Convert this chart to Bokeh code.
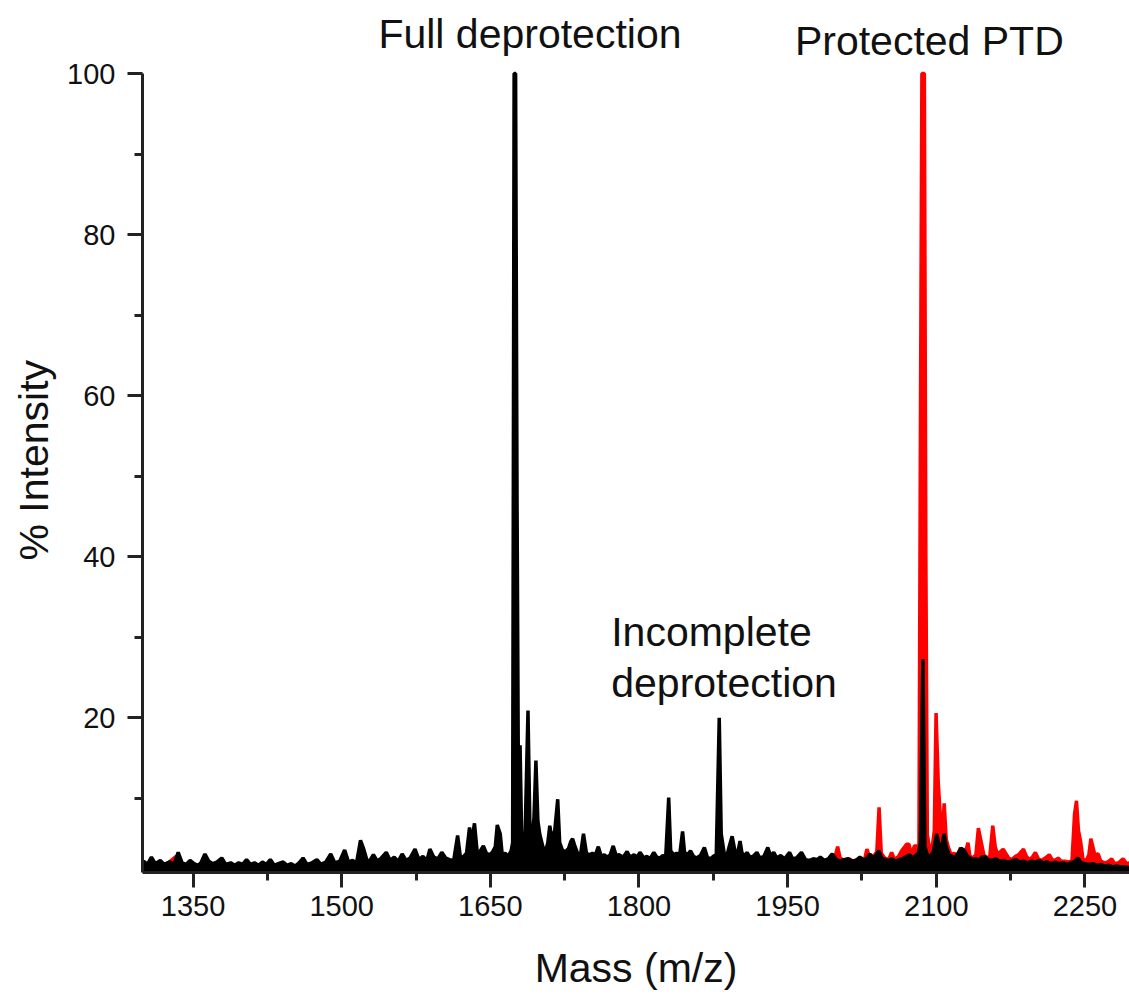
from bokeh.plotting import figure
from bokeh.models import Range1d, FixedTicker, Label, Title
from bokeh.embed import file_html
from bokeh.resources import INLINE

# ---------------- data ----------------
x_major_ticks = [1350, 1500, 1650, 1800, 1950, 2100, 2250]
x_minor_ticks = [1425, 1575, 1725, 1875, 2025, 2175]
y_major_ticks = [20, 40, 60, 80, 100]
y_minor_ticks = [10, 30, 50, 70, 90]

# black trace: deprotected sample
black_mz = [1300, 1304, 1308, 1312, 1317, 1321, 1326, 1331, 1335, 1339, 1343, 1347, 1351, 1355, 1358,
            1362, 1366, 1370, 1374, 1379, 1383, 1388, 1392, 1396, 1400, 1404, 1408, 1412, 1416, 1420,
            1424, 1428, 1432, 1436, 1441, 1445, 1449, 1453, 1457, 1461, 1465, 1470, 1475, 1479, 1484,
            1489, 1493, 1498, 1503, 1507, 1511, 1515, 1519, 1522, 1526, 1529, 1532, 1536, 1540, 1545,
            1549, 1553, 1557, 1561, 1565, 1569, 1574, 1578, 1582, 1586, 1589, 1593, 1597, 1601, 1605,
            1609, 1613, 1617, 1620, 1623, 1626, 1629, 1631, 1634, 1637, 1640, 1643, 1646, 1649, 1652,
            1655, 1657, 1660, 1662, 1665, 1668, 1671, 1672.5, 1674, 1675.5, 1677, 1678.5, 1680, 1681.5, 1683, 1685,
            1688, 1690, 1692, 1694, 1696, 1698, 1700, 1703, 1706, 1708, 1710, 1712, 1715, 1718, 1720,
            1723, 1726, 1729, 1731, 1733, 1735, 1738, 1741, 1744, 1747, 1750, 1753, 1756, 1759, 1762,
            1765, 1768, 1771, 1774, 1777, 1780, 1784, 1788, 1791, 1795, 1798, 1801, 1805, 1808, 1811,
            1815, 1818, 1821, 1824, 1827, 1830, 1832, 1835, 1838, 1841, 1844, 1846, 1849, 1852, 1855,
            1858, 1862, 1866, 1869, 1872, 1875, 1878, 1881, 1883, 1886, 1889, 1891, 1894, 1897, 1900,
            1902, 1904, 1907, 1909, 1912, 1915, 1919, 1922, 1926, 1930, 1933, 1936, 1939, 1943, 1947,
            1952, 1955, 1959, 1964, 1968, 1972, 1976, 1980, 1983, 1987, 1991, 1995, 1999, 2003, 2007,
            2011, 2015, 2019, 2023, 2027, 2030, 2033, 2036, 2039, 2042, 2045, 2048, 2052, 2055, 2059,
            2063, 2067, 2070, 2073, 2076, 2079, 2082, 2084, 2086.5, 2088.5, 2091, 2094, 2097, 2100.5, 2103,
            2105, 2108, 2110, 2113, 2116, 2119, 2122, 2125, 2128, 2131, 2134, 2137, 2140, 2143, 2146,
            2149, 2152, 2156, 2160, 2164, 2168, 2172, 2176, 2180, 2184, 2188, 2192, 2196, 2200, 2204,
            2208, 2212, 2216, 2220, 2224, 2228, 2232, 2236, 2240, 2243, 2246, 2250, 2254, 2258, 2262,
            2266, 2270, 2274, 2278, 2282, 2286, 2290, 2295]
black_int = [2.2, 1.8, 2.7, 1.9, 2.3, 1.8, 2.1, 1.9, 3.3, 2.0, 1.8, 2.3, 1.9, 1.7, 2.0,
             3.1, 2.2, 1.9, 2.1, 2.6, 1.8, 2.0, 1.7, 2.0, 1.8, 2.4, 1.8, 2.0, 1.7, 2.1,
             1.8, 2.4, 1.7, 1.9, 2.1, 1.7, 1.9, 1.6, 2.0, 2.6, 1.8, 2.0, 2.4, 1.8, 2.1,
             3.1, 2.0, 2.2, 3.6, 2.1, 2.3, 2.0, 4.8, 3.8, 2.1, 2.4, 3.0, 2.2, 2.6, 3.3,
             2.3, 2.7, 2.2, 3.1, 2.3, 2.6, 3.7, 2.4, 2.8, 2.3, 3.7, 2.7, 2.5, 3.3, 2.6,
             2.4, 2.3, 5.4, 2.5, 2.8, 3.2, 6.4, 4.5, 6.9, 3.0, 3.5, 4.1, 3.2, 3.0, 3.3,
             4.0, 6.7, 5.6, 3.0, 3.2, 2.8, 3.5, 4.5, 100, 100, 46, 8.0, 16.6, 6.0, 3.5, 5.0,
             20.9, 6.0, 5.0, 7.5, 14.7, 7.2, 5.5, 4.0, 3.5, 4.5, 6.6, 5.0, 6.0, 9.9, 4.5,
             3.5, 3.4, 3.8, 4.6, 5.0, 4.2, 3.2, 3.0, 5.6, 3.2, 3.0, 3.2, 3.0, 4.0, 2.8,
             3.0, 2.7, 3.0, 4.1, 2.9, 3.0, 2.7, 3.4, 2.7, 3.0, 2.7, 3.3, 2.6, 2.8, 2.5,
             3.3, 2.7, 2.6, 2.9, 2.8, 10.1, 3.5, 3.0, 3.2, 2.9, 5.9, 3.3, 3.0, 3.5, 2.8,
             2.6, 2.9, 3.9, 2.7, 2.5, 2.8, 3.0, 20.0, 5.6, 3.2, 3.0, 4.0, 5.3, 3.4, 3.5,
             4.7, 3.2, 2.9, 3.3, 2.7, 2.8, 3.3, 2.6, 2.8, 3.9, 2.8, 3.3, 2.6, 2.9, 2.5,
             3.3, 2.5, 2.6, 3.3, 2.4, 2.3, 2.5, 2.4, 2.7, 2.3, 2.5, 3.1, 2.4, 2.2, 2.4,
             2.5, 2.2, 2.3, 2.7, 2.3, 2.6, 3.1, 2.6, 2.9, 3.5, 2.6, 2.4, 2.3, 2.5, 2.2,
             2.4, 2.6, 2.8, 3.0, 2.6, 2.9, 3.2, 4.5, 27.3, 4.0, 3.0, 2.8, 3.4, 5.6, 4.0,
             3.8, 5.6, 4.0, 3.0, 2.8, 2.6, 3.2, 3.8, 3.6, 2.9, 2.6, 2.4, 2.5, 2.3, 2.7,
             2.8, 2.4, 2.3, 2.5, 2.2, 2.3, 2.1, 2.2, 2.4, 2.1, 2.2, 2.0, 2.2, 2.1, 2.3,
             2.0, 2.1, 1.9, 2.1, 1.9, 2.0, 1.8, 2.0, 2.2, 2.6, 2.0, 1.9, 1.8, 1.9, 1.7,
             1.8, 1.6, 1.7, 1.5, 1.6, 1.5, 1.5, 1.4]

# red trace: protected PTD
red_mz = [1300, 1320, 1333, 1336, 1360, 1400, 1450, 1500, 1550, 1600, 1650, 1700, 1750, 1800, 1850,
          1900, 1950, 1970, 1985, 1995, 1998, 2000.5, 2003, 2007, 2012, 2016, 2020, 2024, 2028, 2030,
          2032, 2035, 2038, 2040, 2042.3, 2044.5, 2048, 2052, 2055, 2058, 2062, 2065, 2067.5, 2070, 2072.5,
          2075, 2078, 2080.5, 2082.5, 2084, 2085.5, 2088, 2089.5, 2091, 2093, 2096, 2098, 2099.8, 2102,
          2104, 2106, 2108, 2110, 2112, 2115, 2118, 2121, 2124.5, 2127, 2130, 2132, 2134, 2137, 2140,
          2142.5, 2145, 2148, 2151, 2154, 2157, 2159.5, 2162, 2165, 2167.5, 2170, 2173, 2176, 2180, 2183,
          2186, 2188, 2191, 2194, 2197, 2200, 2203, 2206, 2210, 2214, 2217, 2220, 2223, 2226, 2230,
          2234, 2237, 2239.5, 2241.5, 2243.5, 2245.5, 2248, 2251, 2254, 2256, 2258, 2260, 2263.5, 2266, 2270,
          2273, 2277, 2280, 2284, 2288.5, 2292, 2295]
red_int = [1.6, 1.5, 2.8, 1.5, 1.5, 1.4, 1.5, 1.6, 1.7, 1.8, 2.0, 2.0, 2.0, 2.0, 2.0,
           2.0, 2.0, 2.1, 2.2, 2.4, 2.8, 4.0, 2.6, 2.3, 2.5, 2.2, 2.4, 2.3, 2.6, 3.7,
           3.0, 2.8, 3.0, 3.4, 8.9, 3.2, 2.6, 2.4, 3.3, 2.4, 2.8, 3.5, 3.9, 4.3, 4.3,
           3.0, 4.1, 4.1, 3.0, 55, 100, 100, 40, 5.5, 4.0, 4.0, 6.0, 20.6, 12.0,
           8.0, 5.5, 9.4, 5.0, 4.0, 3.0, 3.2, 2.8, 3.9, 3.0, 3.6, 4.5, 2.8, 2.6, 3.0,
           6.3, 4.8, 3.0, 2.6, 2.8, 6.6, 4.0, 3.0, 3.4, 3.7, 3.2, 2.6, 2.4, 2.8, 3.0,
           3.4, 3.7, 2.8, 2.4, 2.7, 3.3, 2.5, 2.3, 2.6, 3.0, 2.4, 2.3, 2.6, 2.2, 2.2,
           2.1, 2.3, 8.0, 9.7, 6.0, 4.8, 2.5, 2.2, 3.0, 5.0, 4.0, 3.0, 3.1, 2.2, 2.0,
           2.1, 2.5, 1.9, 2.0, 2.5, 1.9, 2.0]

y_floor = 0.8
y_top_axis = 100

# ---------------- figure ----------------
FONT = "Liberation Sans"
TXT = "#111111"
p = figure(width=1129, height=994, output_backend="svg", toolbar_location=None,
           x_range=Range1d(1299, 2295), y_range=Range1d(y_floor, 109.07),
           min_border_left=142, min_border_right=0, min_border_top=0, min_border_bottom=122)
p.outline_line_color = None
p.grid.visible = False
p.background_fill_color = "white"
p.border_fill_color = "white"

# spectra
p.varea(x=red_mz, y1=[y_floor] * len(red_mz), y2=red_int, fill_color="#ff0000")
p.line(red_mz, red_int, line_color="#ff0000", line_width=3.5)
p.varea(x=black_mz, y1=[y_floor] * len(black_mz), y2=black_int, fill_color="black")
p.line(black_mz, black_int, line_color="black", line_width=3.5)

# axes
for ax in (p.xaxis[0], p.yaxis[0]):
    ax.axis_line_width = 3
    ax.axis_line_color = "#222222"
    ax.major_tick_line_width = 3
    ax.major_tick_line_color = "#222222"
    ax.minor_tick_line_width = 3
    ax.minor_tick_line_color = "#222222"
    ax.major_tick_in = 0
    ax.major_tick_out = 15
    ax.minor_tick_in = 0
    ax.minor_tick_out = 8
    ax.major_label_text_font = FONT
    ax.major_label_text_font_size = "29px"
    ax.major_label_text_color = TXT
    ax.axis_label_text_font = FONT
    ax.axis_label_text_font_size = "41px"
    ax.axis_label_text_font_style = "normal"
    ax.axis_label_text_color = TXT

p.yaxis.bounds = (y_floor, y_top_axis)
p.xaxis.ticker = FixedTicker(ticks=x_major_ticks, minor_ticks=x_minor_ticks)
p.yaxis.ticker = FixedTicker(ticks=y_major_ticks, minor_ticks=y_minor_ticks)
p.xaxis.major_label_standoff = 8
p.yaxis.major_label_standoff = 12
p.xaxis.axis_label = "Mass (m/z)"
p.xaxis.axis_label_standoff = 26

# y axis title placed beside the axis
p.add_layout(Title(text="% Intensity", align="left", offset=312, standoff=16,
                   text_font=FONT, text_font_size="41px", text_font_style="normal",
                   text_color=TXT), "left")

# annotations
ann = dict(text_font=FONT, text_font_size="41px", text_color=TXT, text_baseline="alphabetic")
p.add_layout(Label(x=1690, y=104.85, text="Full deprotection", text_align="center", **ann))
p.add_layout(Label(x=2093, y=104.1, text="Protected PTD", text_align="center", **ann))
p.add_layout(Label(x=1772, y=30.6, text="Incomplete", text_align="left", **ann))
p.add_layout(Label(x=1772, y=24.3, text="deprotection", text_align="left", **ann))

open("out.html", "w").write(file_html(p, INLINE))
